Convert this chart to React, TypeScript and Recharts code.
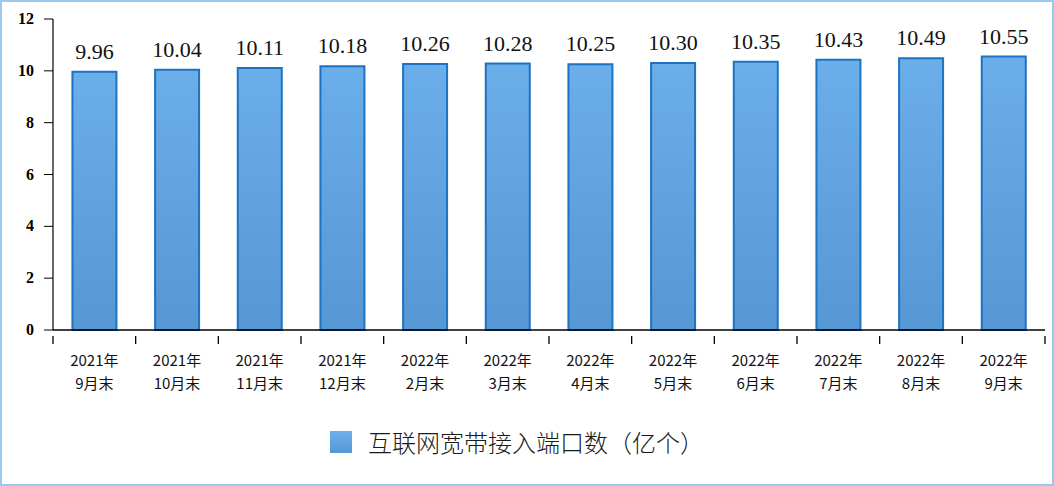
import React from "react";
import {
    BarChart,
    Bar,
    XAxis,
    YAxis,
    LabelList,
    Legend,
} from "recharts";

const years = ["2021年", "2021年", "2021年", "2021年", "2022年", "2022年", "2022年", "2022年", "2022年", "2022年", "2022年", "2022年"];
const months = ["9月末", "10月末", "11月末", "12月末", "2月末", "3月末", "4月末", "5月末", "6月末", "7月末", "8月末", "9月末"];
const ports = [9.96, 10.04, 10.11, 10.18, 10.26, 10.28, 10.25, 10.3, 10.35, 10.43, 10.49, 10.55];
const yTicks = [0, 2, 4, 6, 8, 10, 12];
const seriesName = "互联网宽带接入端口数（亿个）";

const data = months.map((m, i) => ({
    name: `${years[i]}\n${m}`,
    year: years[i],
    month: m,
    ports: ports[i],
}));

const cjkFont = "Noto Sans CJK SC, Liberation Sans, sans-serif";
const serifFont = "Liberation Serif, DejaVu Serif, serif";

function CategoryTick(props: any) {
    const { x, y, payload, index } = props;
    const half = payload?.offset || 41.3;
    const row = data[index] ?? data[payload?.index ?? 0];
    const last = index === data.length - 1;
    return (
        <g>
            <line x1={x - half} x2={x - half} y1={y - 2} y2={y + 6} stroke="#000" strokeWidth={1.3} />
            {last && (
                <line x1={x + half} x2={x + half} y1={y - 2} y2={y + 6} stroke="#000" strokeWidth={1.3} />
            )}
            <text x={x} y={y + 28} textAnchor="middle" fontSize={15} fill="#111" fontFamily={cjkFont}>
                {row?.year}
            </text>
            <text x={x} y={y + 51} textAnchor="middle" fontSize={15} fill="#111" fontFamily={cjkFont}>
                {row?.month}
            </text>
        </g>
    );
}

function ValueTick(props: any) {
    const { x, y, payload } = props;
    return (
        <text x={x} y={y} dy={5} textAnchor="end" fontSize={16} fontWeight="bold" fill="#000" fontFamily={serifFont}>
            {payload.value}
        </text>
    );
}

function ValueLabel(props: any) {
    const { x, y, width, value } = props;
    return (
        <text x={x + width / 2} y={y - 13} textAnchor="middle" fontSize={22} fill="#111" fontFamily={serifFont}>
            {Number(value).toFixed(2)}
        </text>
    );
}

function LegendBox() {
    return (
        <div
            style={{
                display: "flex",
                alignItems: "center",
                justifyContent: "center",
                paddingRight: 20,
            }}
        >
            <svg width={22} height={22} style={{ marginRight: 16 }}>
                <defs>
                    <linearGradient id="legendFill" x1="0" y1="0" x2="0" y2="1">
                        <stop offset="0%" stopColor="#6cb0ec" />
                        <stop offset="100%" stopColor="#5697d6" />
                    </linearGradient>
                </defs>
                <rect x={0} y={0} width={22} height={22} fill="url(#legendFill)" />
            </svg>
            <span style={{ fontSize: 24, color: "#1a1a1a", fontFamily: cjkFont, fontWeight: 300 }}>
                {seriesName}
            </span>
        </div>
    );
}

export default function App() {
    return (
        <div
            style={{
                position: "absolute",
                top: 0,
                left: 0,
                width: 1054,
                height: 486,
                background: "#fff",
                boxShadow: "inset 0 0 0 2px #9cc7ee",
            }}
        >
            <BarChart
                width={1054}
                height={486}
                data={data}
                margin={{ top: 19, right: 9, bottom: 86, left: 0 }}
                barCategoryGap="23.5%"
            >
                <defs>
                    <linearGradient id="barFill" x1="0" y1="0" x2="0" y2="1">
                        <stop offset="0%" stopColor="#6aaeea" />
                        <stop offset="100%" stopColor="#5697d6" />
                    </linearGradient>
                </defs>
                <XAxis
                    dataKey="name"
                    height={70}
                    axisLine={{ stroke: "#000", strokeWidth: 1.5 }}
                    tickLine={false}
                    tick={<CategoryTick />}
                    interval={0}
                />
                <YAxis
                    width={53}
                    domain={[0, 12]}
                    ticks={yTicks}
                    tickSize={9}
                    tickMargin={10}
                    axisLine={{ stroke: "#000", strokeWidth: 1.2 }}
                    tickLine={{ stroke: "#000" }}
                    tick={<ValueTick />}
                />
                <Legend
                    verticalAlign="middle"
                    align="center"
                    wrapperStyle={{ top: 424, left: 0, width: 1054 }}
                    content={() => <LegendBox />}
                />
                <Bar
                    dataKey="ports"
                    name={seriesName}
                    fill="url(#barFill)"
                    stroke="#1d72c2"
                    strokeWidth={2}
                    isAnimationActive={false}
                >
                    <LabelList dataKey="ports" content={<ValueLabel />} />
                </Bar>
            </BarChart>
        </div>
    );
}
